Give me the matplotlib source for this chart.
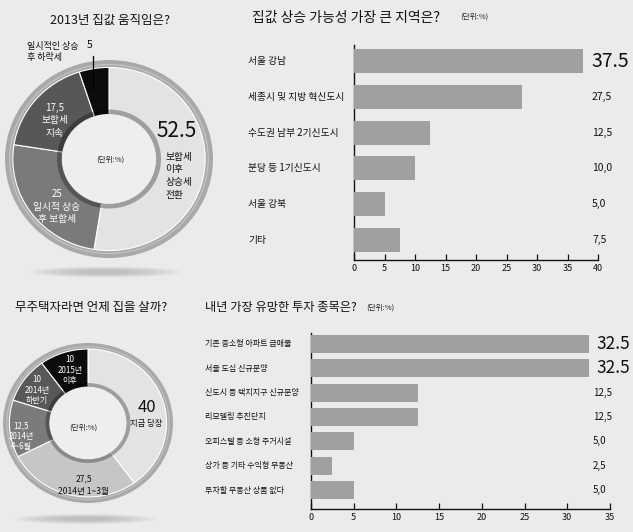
import matplotlib
matplotlib.use('Agg')
import matplotlib.pyplot as plt
from matplotlib.patches import Ellipse
from matplotlib.transforms import blended_transform_factory

plt.rcParams['font.family'] = ['Noto Sans CJK KR', 'DejaVu Sans']

# ---- data ----
donut1_titles = ['보합세\n이후\n상승세\n전환', '일시적 상승\n후 보합세', '보합세\n지속', '일시적인 상승\n후 하락세']
donut1_values = [52.5, 25, 17.5, 5]
donut1_colors = ['#e3e3e3', '#7a7a7a', '#575757', '#0c0c0c']

bar1_cats = ['서울 강남', '세종시 및 지방 혁신도시', '수도권 남부 2기신도시', '분당 등 1기신도시', '서울 강북', '기타']
bar1_vals = [37.5, 27.5, 12.5, 10.0, 5.0, 7.5]

donut2_titles = ['지금 당장', '2014년 1~3월', '2014년\n4~6월', '2014년\n하반기', '2015년\n이후']
donut2_values = [40, 27.5, 12.5, 10, 10]
donut2_colors = ['#e3e3e3', '#c6c6c6', '#7b7b7b', '#585858', '#0c0c0c']

bar2_cats = ['기존 중소형 아파트 급매물', '서울 도심 신규분양', '신도시 등 택지지구 신규분양', '리모델링 추진단지',
             '오피스텔 등 소형 주거시설', '상가 등 기타 수익형 부동산', '투자할 부동산 상품 없다']
bar2_vals = [32.5, 32.5, 12.5, 12.5, 5.0, 2.5, 5.0]

BG = '#ebebeb'
BAR = '#a0a0a0'
W, H = 633, 532

fig = plt.figure(figsize=(W / 100, H / 100), dpi=100, facecolor=BG)


def rect(x0, y0, x1, y1):
    # pixel box (top-left origin) -> figure fraction rect
    return [x0 / W, 1 - y1 / H, (x1 - x0) / W, (y1 - y0) / H]


def fx(x):
    return x / W


def fy(y):
    return 1 - y / H


def fmt(v):
    return f'{v:.1f}'.replace('.', ',')


def shadow(cx, cy, w, h):
    for i in range(8):
        k = 1 - i * 0.1
        fig.patches.append(Ellipse((fx(cx), fy(cy)), w * k / W, h * k / H, transform=fig.transFigure,
                                   facecolor='#9a9a9a', edgecolor='none', alpha=0.09))


def donut(box, values, colors):
    ax = fig.add_axes(rect(*box))
    ax.pie([1], radius=1.0, colors=['#a9a9a9'], wedgeprops=dict(width=0.09, edgecolor='none'))
    ax.pie([1], radius=0.96, colors=['#c4c4c4'], wedgeprops=dict(width=0.012, edgecolor='none'))
    ax.pie(values, radius=0.925, colors=colors, startangle=90, counterclock=False,
           wedgeprops=dict(width=0.475, edgecolor='white', linewidth=0.8))
    ax.pie([1], radius=0.50, colors=['black'], wedgeprops=dict(width=0.05, edgecolor='none', alpha=0.3))
    ax.pie([1], radius=0.45, colors=['#eeeeee'], wedgeprops=dict(edgecolor='none'))
    ax.set_aspect('auto')
    ax.set_xlim(-1, 1)
    ax.set_ylim(-1, 1)
    ax.axis('off')
    return ax


# ---- top-left donut ----
shadow(105, 272, 150, 11)
ax1 = donut((5, 60, 213, 258), donut1_values, donut1_colors)
fig.text(fx(110), fy(20), '2013년 집값 움직임은?', ha='center', va='center', fontsize=9, color='#111')
ax1.text(0.65, 0.28, f'{donut1_values[0]}', ha='center', va='center', fontsize=15, color='#111')
ax1.text(0.54, -0.17, donut1_titles[0], ha='left', va='center', fontsize=7, color='#111', linespacing=1.35)
ax1.text(-0.5, -0.48, f'{donut1_values[1]:g}\n' + donut1_titles[1], ha='center', va='center',
         fontsize=7, color='white', linespacing=1.3)
ax1.text(-0.52, 0.39, fmt(donut1_values[2]) + '\n' + donut1_titles[2], ha='center', va='center',
         fontsize=7, color='white', linespacing=1.3)
ax1.text(0.01, -0.01, '(단위:%)', ha='center', va='center', fontsize=5.5, color='#222')
fig.text(fx(27), fy(52), donut1_titles[3], ha='left', va='center', fontsize=6.5, color='#111', linespacing=1.3)
fig.text(fx(90), fy(45), f'{donut1_values[3]:g}', ha='center', va='center', fontsize=7.5, color='#111')
fig.add_artist(plt.Line2D([fx(93), fx(93)], [fy(56), fy(90)], color='black', lw=0.9, transform=fig.transFigure))

# ---- bottom-left donut ----
shadow(85, 519, 140, 10)
ax3 = donut((3, 343, 173, 503), donut2_values, donut2_colors)
fig.text(fx(91), fy(307), '무주택자라면 언제 집을 살까?', ha='center', va='center', fontsize=9, color='#111')
ax3.text(0.69, 0.19, f'{donut2_values[0]}', ha='center', va='center', fontsize=12, color='#111')
ax3.text(0.69, -0.01, donut2_titles[0], ha='center', va='center', fontsize=6, color='#111')
ax3.text(-0.05, -0.06, '(단위:%)', ha='center', va='center', fontsize=5.5, color='#222')
ax3.text(-0.05, -0.78, fmt(donut2_values[1]) + '\n' + donut2_titles[1], ha='center', va='center',
         fontsize=6.2, color='#111', linespacing=1.5)
ax3.text(-0.79, -0.17, fmt(donut2_values[2]) + '\n' + donut2_titles[2], ha='center', va='center',
         fontsize=5.8, color='white', linespacing=1.2)
ax3.text(-0.6, 0.41, f'{donut2_values[3]}\n' + donut2_titles[3], ha='center', va='center',
         fontsize=5.8, color='white', linespacing=1.2)
ax3.text(-0.21, 0.66, f'{donut2_values[4]}\n' + donut2_titles[4], ha='center', va='center',
         fontsize=5.8, color='white', linespacing=1.2)


def bars(box, cats, vals, xmax, ylim, height, cat_x, big, big_x, small_x, big_fs, small_fs, cat_fs):
    ax = fig.add_axes(rect(*box))
    ax.set_facecolor('none')
    ypos = list(range(len(cats)))
    ax.barh(ypos, vals, height=height, color=BAR, zorder=3)
    ax.set_xlim(0, xmax)
    ax.set_ylim(*ylim)
    ax.set_xticks(range(0, xmax + 1, 5))
    ax.set_yticks([])
    for s in ['top', 'right']:
        ax.spines[s].set_visible(False)
    for s in ['left', 'bottom']:
        ax.spines[s].set_color('#111')
        ax.spines[s].set_linewidth(1.0)
    ax.tick_params(axis='x', direction='in', length=4, width=0.9, labelsize=6.5, pad=3, colors='#111')
    tr = blended_transform_factory(fig.transFigure, ax.transData)
    for y, c, v in zip(ypos, cats, vals):
        ax.text(fx(cat_x), y, c, transform=tr, ha='left', va='center', fontsize=cat_fs, color='#111')
        if v in big:
            ax.text(fx(big_x), y, f'{v}', transform=tr, ha='left', va='center', fontsize=big_fs, color='#111')
        else:
            ax.text(fx(small_x), y, fmt(v), transform=tr, ha='left', va='center', fontsize=small_fs, color='#111')
    return ax


bars((354, 45, 598, 260), bar1_cats, bar1_vals, 40, (5.56, -0.45), 0.67, 248,
     [37.5], 591, 592, 14, 7.5, 7)
fig.text(fx(252), fy(18), '집값 상승 가능성 가장 큰 지역은?', ha='left', va='center', fontsize=10, color='#111')
fig.text(fx(460), fy(17), '(단위:%)', ha='left', va='center', fontsize=5.5, color='#222')

bars((311, 333, 610, 509), bar2_cats, bar2_vals, 35, (6.78, -0.45), 0.74, 205,
     [32.5], 596, 593, 12.5, 7, 5.8)
fig.text(fx(205), fy(307), '내년 가장 유망한 투자 종목은?', ha='left', va='center', fontsize=8.8, color='#111')
fig.text(fx(366), fy(308), '(단위:%)', ha='left', va='center', fontsize=5.5, color='#222')

fig.savefig('out.png', dpi=100, facecolor=BG)
